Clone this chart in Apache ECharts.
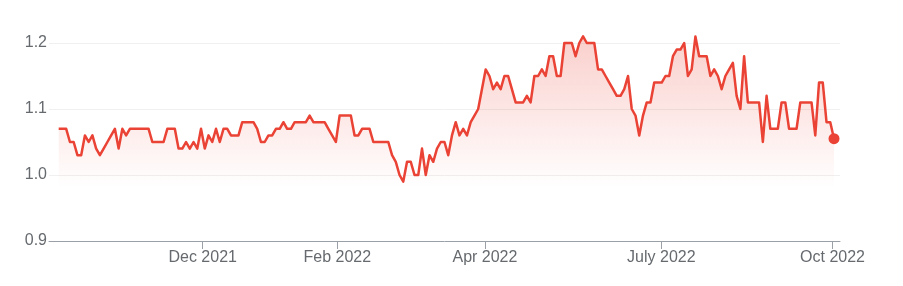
<!DOCTYPE html>
<html>
<head>
<meta charset="utf-8">
<script src="https://cdn.jsdelivr.net/npm/echarts@6/dist/echarts.min.js"></script>
<style>
html,body{margin:0;padding:0;background:#fff;}
#chart{width:903px;height:286px;}
</style>
</head>
<body>
<div id="chart"></div>
<script>
// Daily closing prices (index = trading session in the plotted window)
const prices = [
  1.07,1.07,1.07,1.05,1.05,1.03,1.03,1.06,1.05,1.06,
  1.04,1.03,1.04,1.05,1.06,1.07,1.04,1.07,1.06,1.07,
  1.07,1.07,1.07,1.07,1.07,1.05,1.05,1.05,1.05,1.07,
  1.07,1.07,1.04,1.04,1.05,1.04,1.05,1.04,1.07,1.04,
  1.06,1.05,1.07,1.05,1.07,1.07,1.06,1.06,1.06,1.08,
  1.08,1.08,1.08,1.07,1.05,1.05,1.06,1.06,1.07,1.07,
  1.08,1.07,1.07,1.08,1.08,1.08,1.08,1.09,1.08,1.08,
  1.08,1.08,1.07,1.06,1.05,1.09,1.09,1.09,1.09,1.06,
  1.06,1.07,1.07,1.07,1.05,1.05,1.05,1.05,1.05,1.03,
  1.02,1.00,0.99,1.02,1.02,1.00,1.00,1.04,1.00,1.03,
  1.02,1.04,1.05,1.05,1.03,1.06,1.08,1.06,1.07,1.06,
  1.08,1.09,1.10,1.13,1.16,1.15,1.13,1.14,1.13,1.15,
  1.15,1.13,1.11,1.11,1.11,1.12,1.11,1.15,1.15,1.16,
  1.15,1.18,1.18,1.15,1.15,1.20,1.20,1.20,1.18,1.20,
  1.21,1.20,1.20,1.20,1.16,1.16,1.15,1.14,1.13,1.12,
  1.12,1.13,1.15,1.10,1.09,1.06,1.09,1.11,1.11,1.14,
  1.14,1.14,1.15,1.15,1.18,1.19,1.19,1.20,1.15,1.16,
  1.21,1.18,1.18,1.18,1.15,1.16,1.15,1.13,1.15,1.16,
  1.17,1.12,1.10,1.18,1.11,1.11,1.11,1.11,1.05,1.12,
  1.07,1.07,1.07,1.11,1.11,1.07,1.07,1.07,1.11,1.11,
  1.11,1.11,1.06,1.14,1.14,1.08,1.08,1.055
];
// Month tick labels and the session position where each month starts
const monthLabels = ['Dec 2021', 'Feb 2022', 'Apr 2022', 'July 2022', 'Oct 2022'];
const monthIndex = [38.45, 74.4, 113.8, 160.9, 206.6];
// Y axis ticks
const yTicks = [0.9, 1.0, 1.1, 1.2];

const seriesData = prices.map((v, i) => [i, v]);
const last = seriesData[seriesData.length - 1];

const chart = echarts.init(document.getElementById('chart'), null, {renderer: 'canvas'});
const FONT = "'Liberation Sans', Arial, sans-serif";
const TXT = '#666a6e';

chart.setOption({
  animation: false,
  backgroundColor: '#ffffff',
  grid: {left: 49, right: 63, top: 43, bottom: 45, containLabel: false},
  xAxis: {
    type: 'value',
    min: -2.59,
    max: prices.length - 1 + 1.6,
    axisLine: {show: true, lineStyle: {color: '#9aa0a6', width: 1}},
    axisTick: {show: true, length: 8, customValues: monthIndex, lineStyle: {color: '#9aa0a6'}},
    axisLabel: {
      show: true, margin: 9, customValues: monthIndex,
      color: TXT, fontSize: 16, fontFamily: FONT,
      formatter: function (v) {
        let best = 0, d = Infinity;
        monthIndex.forEach((m, k) => { const dd = Math.abs(m - v); if (dd < d) { d = dd; best = k; } });
        return monthLabels[best];
      }
    },
    splitLine: {show: false}
  },
  yAxis: {
    type: 'value',
    min: yTicks[0],
    max: yTicks[yTicks.length - 1],
    interval: 0.1,
    axisLine: {show: false},
    axisTick: {show: false},
    axisLabel: {
      margin: 2, color: TXT, fontSize: 16, fontFamily: FONT,
      formatter: v => v.toFixed(1)
    },
    splitLine: {show: true, lineStyle: {color: '#f0f0f0', width: 1}}
  },
  series: [
    {
      type: 'line',
      data: seriesData,
      clip: false,
      showSymbol: false,
      symbol: 'none',
      z: 3,
      lineStyle: {color: '#ea4335', width: 2.5, join: 'round'},
      areaStyle: {
        origin: 'start',
        color: new echarts.graphic.LinearGradient(0, 0, 0, 1, [
          {offset: 0, color: 'rgba(234,67,53,0.36)'},
          {offset: 0.74, color: 'rgba(234,67,53,0)'},
          {offset: 1, color: 'rgba(234,67,53,0)'}
        ])
      }
    },
    {
      type: 'scatter',
      data: [last],
      symbol: 'circle',
      symbolSize: 11,
      clip: false,
      z: 4,
      itemStyle: {color: '#ea4335', opacity: 1}
    }
  ]
});
</script>
</body>
</html>
